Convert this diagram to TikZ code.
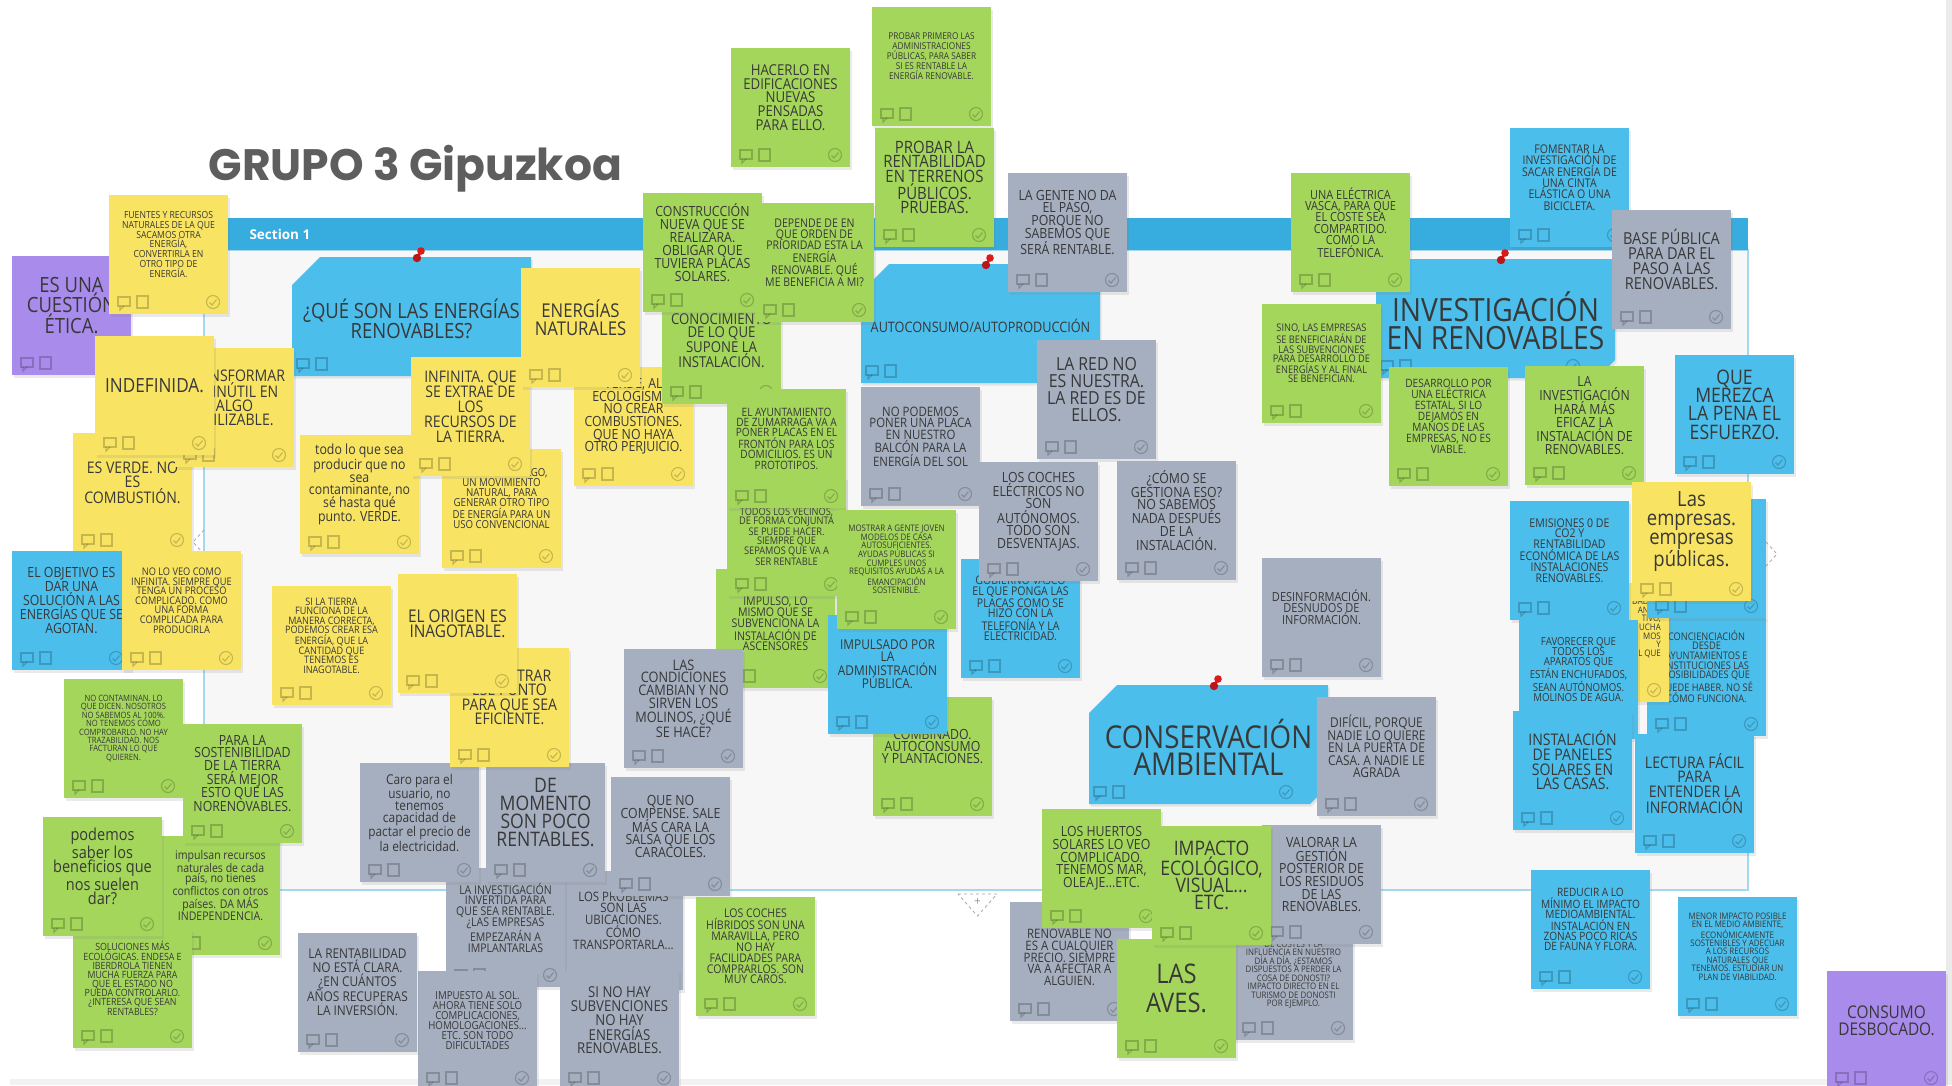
\documentclass[tikz,border=0pt]{standalone}
\usepackage{fontspec}
\setmainfont{Open Sans}
\newfontfamily\notefont{Open Sans}[FakeStretch=0.88]
\newfontfamily\titlefont{Poppins}
\usetikzlibrary{
	shadows,
	calc,
}
\definecolor{yel}{HTML}{F8E462}
\definecolor{grn}{HTML}{A4D65C}
\definecolor{blu}{HTML}{4BBEEB}
\definecolor{gry}{HTML}{A5AFBF}
\definecolor{pur}{HTML}{A98BEB}
\definecolor{barblue}{HTML}{37ACDE}
\definecolor{framebg}{HTML}{F7F7F7}
\definecolor{frameline}{HTML}{A3D8EF}
\definecolor{inktext}{HTML}{383838}
\definecolor{titlegrey}{HTML}{5E5E5E}
\definecolor{pinred}{HTML}{D81B1B}
\tikzset{note/.style={
		% The shadow:
		drop shadow={shadow xshift=1.5pt,shadow yshift=-2.5pt,opacity=.16},
		% no border
		draw=none,
}}
\tikzset{notetext/.style={
		% make sure text aligns properly
		align=center,inner sep=0pt,
		text=inktext,
}}
\tikzset{icon/.style={draw=black,draw opacity=.2,line width=1.1pt}}
\tikzset{handle/.style={draw=black!35,dashed,line width=.8pt}}
\newcommand{\notesize}[2]{\fontsize{#1}{#2}\selectfont}
% bubble x, check x, row y
\newcommand{\noteicons}[3]{%
	\draw[icon] (#1,#3-5) rectangle ++(12,9);
	\draw[icon] (#1+2,#3+4) -- ++(0,4) -- ++(4,-4);
	\draw[icon] (#1+19,#3-6) rectangle ++(11,12);
	\draw[icon] (#2,#3) circle (6.5);
	\draw[icon] (#2-3.5,#3+0.5) -- ++(2.5,2.5) -- ++(4.5,-5.5);
}
% [text shift] name, colour, x, y, size, leading, text
\newcommand{\sticky}[8][0]{%
	\path[note,fill=#3] (#4,#5) rectangle ++(119,119);
	\noteicons{#4+9}{#4+104}{#5+107}
	\node[notetext,font={\notefont\notesize{#6}{#7}}] (#2) at (#4+59.5,#5+49.5+#1) {#8};
}
\newcommand{\pushpin}[2]{%
	\draw[pinred,line width=2.5pt] (#1+4,#2-6) -- (#1,#2+1);
	\fill[pinred] (#1+4,#2-6) circle (3.8);
	\fill[pinred!85!black] (#1,#2+1) circle (4.2);
}
% name, x, y, size, leading, text
\newcommand{\headnote}[6]{%
	\path[note,fill=blu] (#2,#3+28) -- (#2+28,#3) -- (#2+239,#3) -- (#2+239,#3+101)
		-- (#2+221,#3+119) -- (#2,#3+119) -- cycle;
	\noteicons{#2+5}{#2+197}{#3+107}
	\node[notetext,font={\notefont\notesize{#4}{#5}}] (#1) at (#2+119.5,#3+62) {#6};
	\pushpin{#2+125}{#3}
}

\begin{document}
\begin{tikzpicture}[x=1pt,y=-1pt]
	\useasboundingbox (0,0) rectangle (1952,1085);
	\fill[white] (0,0) rectangle (1952,1085);
	\fill[black!8] (1946,0) rectangle (1952,1085);
	\fill[black!5] (10,1079) rectangle (1946,1085);
	% the section
	\fill[framebg] (204,250) rectangle (1748,890);
	\draw[frameline,line width=1.2pt] (204,250) rectangle (1748,890);
	\fill[barblue] (204,218) rectangle (1748,250);
	\node[anchor=base west,text=white,font=\bfseries\notesize{13.5}{14}] (sec) at (246,239) {Section 1};
	\draw[handle] (958,894) -- (997,894) -- (977.5,916) -- cycle;
	\node[text=black!40,font=\notesize{12}{12}] (plus) at (977.5,902) {+};
	\draw[handle] (204,530) -- (193,542) -- (204,554);
	\draw[handle] (1766,542) -- (1777,554) -- (1766,566);
	\node[anchor=base west,text=titlegrey,font={\titlefont\bfseries\notesize{44}{44}}] (title) at (205,180) {GRUPO 3 Gipuzkoa};

	% headers
	\headnote{h1}{292}{257}{21}{18}{¿QUÉ SON LAS ENERGÍAS\\RENOVABLES?}
	\headnote{h2}{861}{264}{14.4}{14}{AUTOCONSUMO/AUTOPRODUCCIÓN}
	\headnote{h3}{1376}{259}{32}{28}{INVESTIGACIÓN\\EN RENOVABLES}
	\headnote{h4}{1089}{685}{31.5}{27}{CONSERVACIÓN\\AMBIENTAL}

	% left column
	\sticky{n01}{pur}{12}{256}{21}{20.5}{ES UNA\\CUESTIÓN\\ÉTICA.}
	\sticky{n02}{yel}{109}{195}{9.8}{9.7}{FUENTES Y RECURSOS\\NATURALES DE LA QUE\\SACAMOS OTRA\\ENERGÍA,\\CONVERTIRLA EN\\OTRO TIPO DE\\ENERGÍA.}
	\sticky{n47}{yel}{73}{433}{16}{14}{ES VERDE. NO\\ES\\COMBUSTIÓN.}
	\sticky{n46}{yel}{175}{348}{16}{14}{TRANSFORMAR\\LO INÚTIL EN\\ALGO\\UTILIZABLE.}
	\sticky{n45}{yel}{95}{336}{19.5}{18}{INDEFINIDA.}
	\sticky{n48}{blu}{12}{551}{14}{12.3}{EL OBJETIVO ES\\DAR UNA\\SOLUCIÓN A LAS\\ENERGÍAS QUE SE\\AGOTAN.}
	\sticky{n49}{yel}{122}{551}{10.5}{9.6}{NO LO VEO COMO\\INFINITA. SIEMPRE QUE\\TENGA UN PROCESO\\COMPLICADO. COMO\\UNA FORMA\\COMPLICADA PARA\\PRODUCIRLA}
	\sticky{n50}{grn}{64}{679}{8.7}{8.4}{NO CONTAMINAN. LO\\QUE DICEN. NOSOTROS\\NO SABEMOS AL 100\%.\\NO TENEMOS CÓMO\\COMPROBARLO. NO HAY\\TRAZABILIDAD. NOS\\FACTURAN LO QUE\\QUIEREN.}
	\sticky{n60}{grn}{161}{836}{12}{10.7}{impulsan recursos\\naturales de cada\\país, no tienes\\conflictos con otros\\países. DA MÁS\\INDEPENDENCIA.}
	\sticky{n58}{grn}{183}{724}{14}{12.3}{PARA LA\\SOSTENIBILIDAD\\DE LA TIERRA\\SERÁ MEJOR\\ESTO QUE LAS\\NORENOVABLES.}
	\sticky{n61}{grn}{73}{929}{10}{9}{SOLUCIONES MÁS\\ECOLÓGICAS. ENDESA E\\IBERDROLA TIENEN\\MUCHA FUERZA PARA\\QUE EL ESTADO NO\\PUEDA CONTROLARLO.\\¿INTERESA QUE SEAN\\RENTABLES?}
	\sticky{n59}{grn}{43}{817}{16.5}{14.6}{podemos\\saber los\\beneficios que\\nos suelen\\dar?}

	% centre left
	\sticky{n54}{yel}{272}{586}{10.3}{9.5}{SI LA TIERRA\\FUNCIONA DE LA\\MANERA CORRECTA,\\PODEMOS CREAR ESA\\ENERGÍA, QUE LA\\CANTIDAD QUE\\TENEMOS ES\\INAGOTABLE.}
	\sticky{n51}{yel}{300}{435}{14}{12.7}{todo lo que sea\\producir que no\\sea\\contaminante, no\\sé hasta qué\\punto. VERDE.}
	\sticky{n53}{yel}{442}{449}{11}{10}{APROVECHAR ALGO,\\UN MOVIMIENTO\\NATURAL, PARA\\GENERAR OTRO TIPO\\DE ENERGÍA PARA UN\\USO CONVENCIONAL}
	\sticky{n52}{yel}{411}{357}{16}{15}{INFINITA. QUE\\SE EXTRAE DE\\LOS\\RECURSOS DE\\LA TIERRA.}
	\sticky{n57}{yel}{574}{367}{14}{12.7}{VERDE, AL\\ECOLOGISMO.\\NO CREAR\\COMBUSTIONES.\\QUE NO HAYA\\OTRO PERJUICIO.}
	\sticky{n04}{yel}{521}{268}{19}{18}{ENERGÍAS\\NATURALES}

	% top middle
	\sticky{n05}{grn}{731}{48}{15}{13.7}{HACERLO EN\\EDIFICACIONES\\NUEVAS\\PENSADAS\\PARA ELLO.}
	\sticky{n06}{grn}{872}{7}{9.4}{10}{PROBAR PRIMERO LAS\\ADMINISTRACIONES\\PÚBLICAS, PARA SABER\\SI ES RENTABLE LA\\ENERGÍA RENOVABLE.}
	\sticky{n07}{grn}{875}{128}{17}{14.5}{PROBAR LA\\RENTABILIDAD\\EN TERRENOS\\PÚBLICOS.\\PRUEBAS.}
	\sticky{n10}{grn}{662}{285}{15}{13}{TENER\\CONOCIMIENTO\\DE LO QUE\\SUPONE LA\\INSTALACIÓN.}
	\sticky{n08}{grn}{643}{193}{14}{13}{CONSTRUCCIÓN\\NUEVA QUE SE\\REALIZARA.\\OBLIGAR QUE\\TUVIERA PLACAS\\SOLARES.}
	\sticky{n09}{grn}{755}{203}{12}{10.7}{DEPENDE DE EN\\QUE ORDEN DE\\PRIORIDAD ESTA LA\\ENERGÍA\\RENOVABLE. QUÉ\\ME BENEFICIA A MI?}
	\sticky{n11}{gry}{1008}{173}{14}{12.5}{LA GENTE NO DA\\EL PASO,\\PORQUE NO\\SABEMOS QUE\\SERÁ RENTABLE.}
	\sticky{n18}{gry}{1037}{340}{18}{17}{LA RED NO\\ES NUESTRA.\\LA RED ES DE\\ELLOS.}
	\sticky{n19}{gry}{861}{387}{13}{11.7}{NO PODEMOS\\PONER UNA PLACA\\EN NUESTRO\\BALCÓN PARA LA\\ENERGÍA DEL SOL}
	\sticky{n25}{blu}{961}{559}{12}{10.7}{GOBIERNO VASCO\\EL QUE PONGA LAS\\PLACAS COMO SE\\HIZO CON LA\\TELEFONÍA Y LA\\ELECTRICIDAD.}
	\sticky{n26}{gry}{979}{462}{14}{12.7}{LOS COCHES\\ELÉCTRICOS NO\\SON\\AUTÓNOMOS.\\TODO SON\\DESVENTAJAS.}
	\sticky{n27}{gry}{1117}{461}{14}{12.7}{¿CÓMO SE\\GESTIONA ESO?\\NO SABEMOS\\NADA DESPUÉS\\DE LA\\INSTALACIÓN.}
	\sticky{n28}{gry}{1262}{558}{12.5}{10.5}{DESINFORMACIÓN.\\DESNUDOS DE\\INFORMACIÓN.}
	\sticky{n23}{grn}{716}{569}{12}{10.7}{SUBVENCIONES.\\IMPULSO, LO\\MISMO QUE SE\\SUBVENCIONA LA\\INSTALACIÓN DE\\ASCENSORES}
	\sticky[10]{n21}{grn}{727}{477}{10.5}{9.3}{TODOS LOS VECINOS,\\DE FORMA CONJUNTA\\SE PUEDE HACER.\\SIEMPRE QUE\\SEPAMOS QUE VA A\\SER RENTABLE}
	\sticky{n20}{grn}{727}{389}{11.5}{10.3}{EL AYUNTAMIENTO\\DE ZUMARRAGA VA A\\PONER PLACAS EN EL\\FRONTÓN PARA LOS\\DOMICILIOS. ES UN\\PROTOTIPOS.}
	\sticky{n72}{grn}{873}{697}{14}{12.3}{COMBINADO.\\AUTOCONSUMO\\Y PLANTACIONES.}
	\sticky{n24}{blu}{828}{615}{13.5}{11.7}{IMPULSADO POR\\LA\\ADMINISTRACIÓN\\PÚBLICA.}
	\sticky{n22}{grn}{837}{510}{9}{8.3}{MOSTRAR A GENTE JOVEN\\MODELOS DE CASA\\AUTOSUFICIENTES.\\AYUDAS PÚBLICAS SI\\CUMPLES UNOS\\REQUISITOS AYUDAS A LA\\EMANCIPACIÓN\\SOSTENIBLE.}

	% bottom middle
	\sticky{n70}{gry}{624}{649}{14.5}{12.7}{LAS\\CONDICIONES\\CAMBIAN Y NO\\SIRVEN LOS\\MOLINOS, ¿QUÉ\\SE HACE?}
	\sticky{n66}{gry}{564}{871}{13}{11.5}{LOS PROBLEMAS\\SON LAS\\UBICACIONES.\\CÓMO\\TRANSPORTARLA...}
	\sticky{n65}{gry}{446}{868}{12}{10.9}{LA INVESTIGACIÓN\\INVERTIDA PARA\\QUE SEA RENTABLE.\\¿LAS EMPRESAS\\EMPEZARÁN A\\IMPLANTARLAS}
	\sticky{n62}{gry}{360}{763}{13.5}{11.9}{Caro para el\\usuario, no\\tenemos\\capacidad de\\pactar el precio de\\la electricidad.}
	\sticky{n64}{gry}{486}{763}{20}{17.8}{DE\\MOMENTO\\SON POCO\\RENTABLES.}
	\sticky{n56}{yel}{450}{648}{16}{14.5}{DEMOSTRAR\\ESE PUNTO\\PARA QUE SEA\\EFICIENTE.}
	\sticky{n55}{yel}{398}{574}{17.5}{15.3}{EL ORIGEN ES\\INAGOTABLE.}
	\sticky{n67}{gry}{611}{777}{14}{12.7}{QUE NO\\COMPENSE. SALE\\MÁS CARA LA\\SALSA QUE LOS\\CARACOLES.}
	\sticky{n68}{gry}{418}{971}{11}{10}{IMPUESTO AL SOL.\\AHORA TIENE SOLO\\COMPLICACIONES,\\HOMOLOGACIONES...\\ETC. SON TODO\\DIFICULTADES}
	\sticky{n69}{gry}{560}{971}{15}{13.7}{SI NO HAY\\SUBVENCIONES\\NO HAY\\ENERGÍAS\\RENOVABLES.}
	\sticky{n63}{gry}{298}{933}{13.5}{12}{LA RENTABILIDAD\\NO ESTÁ CLARA.\\¿EN CUÁNTOS\\AÑOS RECUPERAS\\LA INVERSIÓN.}
	\sticky{n71}{grn}{696}{897}{12}{10.8}{LOS COCHES\\HÍBRIDOS SON UNA\\MARAVILLA, PERO\\NO HAY\\FACILIDADES PARA\\COMPRARLOS. SON\\MUY CAROS.}

	% right part
	\sticky{n12}{grn}{1291}{173}{12.5}{11.3}{UNA ELÉCTRICA\\VASCA, PARA QUE\\EL COSTE SEA\\COMPARTIDO.\\COMO LA\\TELEFÓNICA.}
	\sticky{n13}{grn}{1262}{304}{10.5}{9.5}{SINO, LAS EMPRESAS\\SE BENEFICIARÁN DE\\LAS SUBVENCIONES\\PARA DESARROLLO DE\\ENERGÍAS Y AL FINAL\\SE BENEFICIAN.}
	\sticky{n15}{blu}{1510}{128}{12}{11.3}{FOMENTAR LA\\INVESTIGACIÓN DE\\SACAR ENERGÍA DE\\UNA CINTA\\ELÁSTICA O UNA\\BICICLETA.}
	\sticky{n16}{gry}{1612}{210}{16.5}{15}{BASE PÚBLICA\\PARA DAR EL\\PASO A LAS\\RENOVABLES.}
	\sticky{n31}{grn}{1389}{367}{11.5}{11}{DESARROLLO POR\\UNA ELÉCTRICA\\ESTATAL, SI LO\\DEJAMOS EN\\MANOS DE LAS\\EMPRESAS, NO ES\\VIABLE.}
	\sticky{n32}{grn}{1525}{366}{14}{12.7}{LA\\INVESTIGACIÓN\\HARÁ MÁS\\EFICAZ LA\\INSTALACIÓN DE\\RENOVABLES.}
	\sticky{n33}{blu}{1675}{355}{20}{18.3}{QUE\\MEREZCA\\LA PENA EL\\ESFUERZO.}
	\sticky{n39}{blu}{1647}{617}{10.5}{9.6}{CONCIENCIACIÓN\\DESDE\\AYUNTAMIENTOS E\\INSTITUCIONES LAS\\POSIBILIDADES QUE\\PUEDE HABER. NO SÉ\\CÓMO FUNCIONA.}
	% half hidden notes
	\path[note,fill=yel] (1550,583) rectangle ++(119,119);
	\noteicons{1559}{1654}{690}
	\node[notetext,align=right,anchor=east,font={\notefont\notesize{9}{8.7}}] (n37) at (1661,628) {DAD DE\\ANDO\\TIVO,\\UCHA\\MOS\\Y\\L QUE};
	\path[note,fill=blu] (1647,499) rectangle ++(119,119);
	\noteicons{1656}{1751}{606}
	\sticky{n35}{yel}{1632}{482}{21}{18.6}{Las\\empresas.\\empresas\\públicas.}
	\sticky{n34}{blu}{1510}{501}{12}{10.7}{EMISIONES 0 DE\\CO2 Y\\RENTABILIDAD\\ECONÓMICA DE LAS\\INSTALACIONES\\RENOVABLES.}
	\sticky{n38}{blu}{1519}{620}{11}{10}{FAVORECER QUE\\TODOS LOS\\APARATOS QUE\\ESTÁN ENCHUFADOS,\\SEAN AUTÓNOMOS.\\MOLINOS DE AGUA.}
	\sticky{n40}{blu}{1513}{711}{16}{14.7}{INSTALACIÓN\\DE PANELES\\SOLARES EN\\LAS CASAS.}
	\sticky{n41}{blu}{1635}{734}{16}{14.4}{LECTURA FÁCIL\\PARA\\ENTENDER LA\\INFORMACIÓN}
	\sticky{n42}{blu}{1531}{870}{11.5}{10.3}{REDUCIR A LO\\MÍNIMO EL IMPACTO\\MEDIOAMBIENTAL.\\INSTALACIÓN EN\\ZONAS POCO RICAS\\DE FAUNA Y FLORA.}
	\sticky{n43}{blu}{1678}{897}{9}{8.4}{MENOR IMPACTO POSIBLE\\EN EL MEDIO AMBIENTE,\\ECONÓMICAMENTE\\SOSTENIBLES Y ADECUAR\\A LOS RECURSOS\\NATURALES QUE\\TENEMOS. ESTUDIAR UN\\PLAN DE VIABILIDAD.}
	\sticky{n44}{pur}{1827}{971}{17.5}{16.7}{CONSUMO\\DESBOCADO.}

	% around the conservation header
	\sticky{n30}{gry}{1317}{697}{13.5}{12.5}{DIFÍCIL, PORQUE\\NADIE LO QUIERE\\EN LA PUERTA DE\\CASA. A NADIE LE\\AGRADA}
	\sticky{n76}{gry}{1010}{902}{13}{11.8}{LO\\RENOVABLE NO\\ES A CUALQUIER\\PRECIO. SIEMPRE\\VA A AFECTAR A\\ALGUIEN.}
	\sticky{n73}{grn}{1042}{809}{14}{12.7}{LOS HUERTOS\\SOLARES LO VEO\\COMPLICADO.\\TENEMOS MAR,\\OLEAJE...ETC.}
	\sticky{n78}{gry}{1234}{921}{9}{8.5}{FALTA UN ESTUDIO\\DE COSTES Y LA\\INFLUENCIA EN NUESTRO\\DÍA A DÍA. ¿ESTAMOS\\DISPUESTOS A PERDER LA\\COSA DE DONOSTI?\\IMPACTO DIRECTO EN EL\\TURISMO DE DONOSTI\\POR EJEMPLO.}
	\sticky{n75}{gry}{1262}{825}{14}{12.7}{VALORAR LA\\GESTIÓN\\POSTERIOR DE\\LOS RESIDUOS\\DE LAS\\RENOVABLES.}
	\sticky{n77}{grn}{1117}{939}{27}{29}{LAS\\AVES.}
	\sticky{n74}{grn}{1152}{826}{20}{17.2}{IMPACTO\\ECOLÓGICO,\\VISUAL...\\ETC.}
\end{tikzpicture}
\end{document}
